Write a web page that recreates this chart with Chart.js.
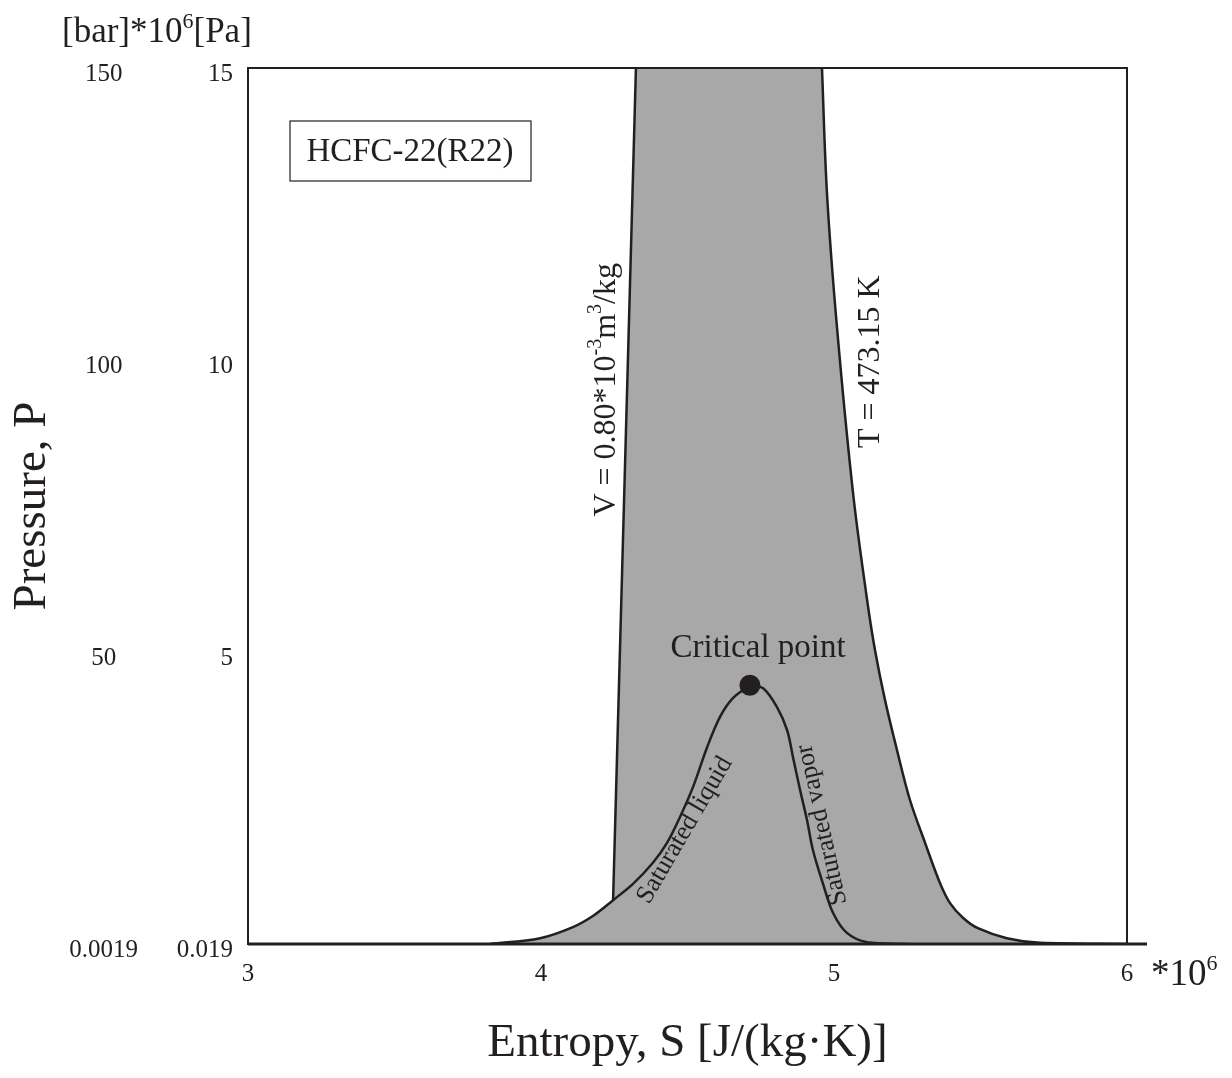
<!DOCTYPE html>
<html>
<head>
<meta charset="utf-8">
<title>HCFC-22 (R22) P-S diagram</title>
<script src="https://cdn.jsdelivr.net/npm/chart.js@4.4.1/dist/chart.umd.min.js"></script>
<style>
  html, body { margin: 0; padding: 0; background: #fff; }
  #wrap { width: 1232px; height: 1078px; position: relative; }
</style>
</head>
<body>
<div id="wrap"><canvas id="psChart"></canvas></div>
<script>
// S in 10^6 J/(kg K), P in 10^6 Pa
const satLiquidS = [3.826, 3.997, 4.109, 4.177, 4.246, 4.314, 4.382, 4.430, 4.474, 4.519, 4.567, 4.611, 4.655, 4.713];
const satLiquidP = [0, 0.10, 0.29, 0.48, 0.75, 1.03, 1.39, 1.73, 2.17, 2.69, 3.37, 3.89, 4.21, 4.43];
const satVaporS = [4.713, 4.758, 4.805, 4.840, 4.860, 4.884, 4.908, 4.928, 4.962, 4.997, 5.044, 5.113, 5.249];
const satVaporP = [4.43, 4.38, 4.06, 3.66, 3.20, 2.64, 2.12, 1.61, 1.04, 0.53, 0.19, 0.03, 0];
const isothermS = [4.959, 4.976, 5.010, 5.065, 5.113, 5.140, 5.174, 5.215, 5.259, 5.311, 5.362, 5.396, 5.440, 5.491, 5.590, 5.703, 6.0];
const isothermP = [15, 12.86, 10.57, 7.72, 5.89, 5.03, 4.18, 3.32, 2.47, 1.73, 1.04, 0.70, 0.45, 0.27, 0.10, 0.02, 0];
const isochoreS = [4.246, 4.324];
const isochoreP = [0.75, 15];
const criticalS = [4.713];
const criticalP = [4.43];

const xTicks = [3, 4, 5, 6];
const paTicks = [0, 5, 10, 15];
const paLabels = ['0.019', '5', '10', '15'];
const barLabels = ['0.0019', '50', '100', '150'];

const ink = '#231f20';
const shade = '#a8a8a8';
const serif = '"Liberation Serif", "Times New Roman", serif';

function pts(xs, ys) {
  return xs.map((x, i) => ({ x: x, y: ys[i] }));
}

function curve(label, data, extra) {
  return Object.assign({
    label: label,
    data: data,
    borderColor: ink,
    borderWidth: 2.5,
    backgroundColor: shade,
    fill: 'origin',
    pointRadius: 0,
    tension: 0.35
  }, extra || {});
}

// draws text pieces [text, size, rise] one after another, centred on (0,0)
function drawRuns(ctx, parts) {
  let w = 0;
  parts.forEach(p => { ctx.font = p[1] + 'px ' + serif; w += ctx.measureText(p[0]).width; });
  let cx = -w / 2;
  parts.forEach(p => {
    ctx.font = p[1] + 'px ' + serif;
    ctx.fillText(p[0], cx, -(p[2] || 0));
    cx += ctx.measureText(p[0]).width;
  });
}

function label(chart, s, p, deg, parts) {
  const { ctx, scales } = chart;
  ctx.save();
  ctx.translate(scales.x.getPixelForValue(s), scales.y.getPixelForValue(p));
  ctx.rotate(deg * Math.PI / 180);
  ctx.textAlign = 'left';
  ctx.textBaseline = 'middle';
  ctx.fillStyle = ink;
  drawRuns(ctx, parts);
  ctx.restore();
}

function inline(ctx, parts, x, y) {
  parts.forEach(p => {
    ctx.font = p[1] + 'px ' + serif;
    ctx.fillText(p[0], x, y - p[2]);
    x += ctx.measureText(p[0]).width;
  });
}

const decor = {
  id: 'decor',
  afterDatasetsDraw(chart) {
    const { ctx, chartArea: a } = chart;
    ctx.save();
    ctx.strokeStyle = ink;
    ctx.lineWidth = 2;
    ctx.strokeRect(a.left, a.top, a.right - a.left, a.bottom - a.top);
    ctx.lineWidth = 3;
    ctx.beginPath();
    ctx.moveTo(a.left, a.bottom);
    ctx.lineTo(a.right + 20, a.bottom);
    ctx.stroke();

    // substance box
    ctx.lineWidth = 1.2;
    ctx.fillStyle = '#fff';
    ctx.fillRect(a.left + 42, a.top + 53, 241, 60);
    ctx.strokeRect(a.left + 42, a.top + 53, 241, 60);
    ctx.fillStyle = ink;
    ctx.textAlign = 'center';
    ctx.textBaseline = 'middle';
    ctx.font = '33px ' + serif;
    ctx.fillText('HCFC-22(R22)', a.left + 42 + 120, a.top + 53 + 31);

    // unit header above the pressure ticks, multiplier after the last x tick
    ctx.textAlign = 'left';
    ctx.textBaseline = 'alphabetic';
    inline(ctx, [['[bar]*10', 35, 0], ['6', 22, 14], ['[Pa]', 35, 0]], 62, 42);
    inline(ctx, [['*10', 37, 0], ['6', 22, 15]], a.right + 24, a.bottom + 41);
    ctx.restore();

    label(chart, 4.225, 9.49, -90, [['V = 0.80*10', 32, 0], ['-3', 20, 11], ['m', 32, 0], ['3', 20, 11], ['/kg', 32, 0]]);
    label(chart, 5.126, 9.97, -90, [['T = 473.15 K', 32, 0]]);
    label(chart, 4.741, 5.07, 0, [['Critical point', 33, 0]]);
    label(chart, 4.491, 1.95, -59.7, [['Saturated liquid', 26, 0]]);
    label(chart, 4.959, 2.04, -102.6, [['Saturated vapor', 26, 0]]);
  }
};

// isochore plus the top edge up to the isotherm, so the shaded band has no seam
const isochoreBand = pts(isochoreS, isochoreP).concat(pts(isothermS.slice(0, 2), isothermP.slice(0, 2)));

const ctx = document.getElementById('psChart').getContext('2d');
const psChart = new Chart(ctx, {
  type: 'line',
  data: {
    datasets: [
      curve('shaded band', isochoreBand, { borderWidth: 0, tension: 0 }),
      curve('V = 0.80*10^-3 m3/kg', pts(isochoreS, isochoreP), { tension: 0, fill: false }),
      curve('Saturated liquid', pts(satLiquidS, satLiquidP)),
      curve('Saturated vapor', pts(satVaporS, satVaporP)),
      curve('T = 473.15 K', pts(isothermS, isothermP)),
      {
        label: 'Critical point',
        data: pts(criticalS, criticalP),
        showLine: false,
        pointRadius: 10.5,
        pointBackgroundColor: ink,
        pointBorderWidth: 0,
        fill: false
      }
    ]
  },
  options: {
    responsive: true,
    maintainAspectRatio: false,
    animation: false,
    layout: { padding: { top: 68, right: 105, left: 0, bottom: 0 } },
    plugins: {
      legend: { display: false },
      tooltip: { enabled: false },
      filler: { drawTime: 'beforeDatasetsDraw' }
    },
    scales: {
      x: {
        type: 'linear',
        min: 3,
        max: 6,
        afterBuildTicks: s => { s.ticks = xTicks.map(v => ({ value: v })); },
        afterFit: s => { s.height = 134; },
        ticks: { color: ink, font: { family: serif, size: 25 }, padding: 15 },
        grid: { display: false, drawTicks: false },
        border: { display: false },
        title: {
          display: true,
          text: 'Entropy, S [J/(kg\u00b7K)]',
          color: ink,
          font: { family: serif, size: 47 },
          padding: { top: 4, bottom: 6 }
        }
      },
      y: {
        type: 'linear',
        position: 'left',
        weight: 0,
        min: 0,
        max: 15,
        afterBuildTicks: s => { s.ticks = paTicks.map(v => ({ value: v })); },
        afterFit: s => { s.width = 88; },
        ticks: {
          color: ink,
          font: { family: serif, size: 25 },
          padding: 15,
          labelOffset: 6,
          callback: (v) => paLabels[paTicks.indexOf(v)]
        },
        grid: { display: false, drawTicks: false },
        border: { display: false }
      },
      y2: {
        type: 'linear',
        position: 'left',
        weight: 1,
        min: 0,
        max: 15,
        afterBuildTicks: s => { s.ticks = paTicks.map(v => ({ value: v })); },
        afterFit: s => { s.width = 160; },
        ticks: {
          color: ink,
          font: { family: serif, size: 25 },
          padding: 22,
          labelOffset: 6,
          crossAlign: 'center',
          callback: (v) => barLabels[paTicks.indexOf(v)]
        },
        grid: { display: false, drawTicks: false },
        border: { display: false },
        title: {
          display: true,
          text: 'Pressure, P',
          color: ink,
          font: { family: serif, size: 47 },
          padding: { top: 4, bottom: 4 }
        }
      }
    }
  },
  plugins: [decor]
});
</script>
</body>
</html>
